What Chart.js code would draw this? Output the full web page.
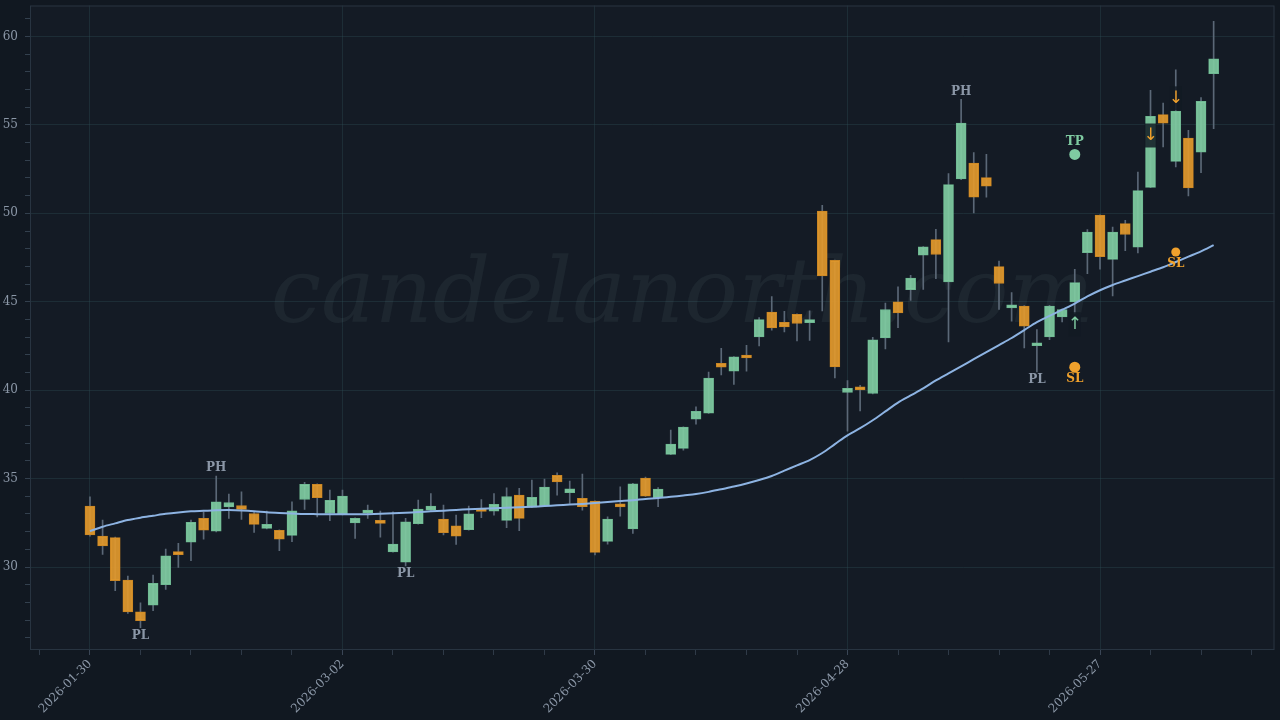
<!DOCTYPE html>
<html>
<head>
<meta charset="utf-8">
<script src="https://cdn.jsdelivr.net/npm/chart.js@4.4.1/dist/chart.umd.min.js"></script>
<style>
    html, body { margin: 0; padding: 0; background: #111821; }
    #wrap { width: 1280px; height: 720px; }
</style>
</head>
<body>
<div id="wrap"><canvas id="candles" width="1280" height="720"></canvas></div>
<script>
// daily OHLC, one entry per trading day (index 0 = 2026-01-30)
const opens = [33.45, 31.75, 31.66, 29.27, 27.47, 27.84, 29.00, 30.74, 31.40, 32.75,
    32.03, 33.40, 33.48, 33.03, 32.19, 32.07, 31.79, 33.82, 34.67, 33.03,
    32.98, 32.50, 33.05, 32.53, 30.86, 30.27, 32.45, 33.22, 32.71, 32.33,
    32.11, 33.20, 33.16, 32.64, 34.07, 33.39, 33.45, 35.18, 34.20, 33.88,
    33.73, 31.45, 33.45, 32.16, 35.03, 33.92, 36.37, 36.71, 38.36, 38.70,
    41.52, 41.07, 41.88, 43.01, 44.41, 43.84, 44.29, 43.82, 50.13, 47.34,
    39.87, 40.06, 39.81, 42.96, 44.99, 45.69, 47.63, 48.51, 46.12, 51.94,
    52.84, 52.02, 46.99, 44.65, 44.76, 42.51, 43.01, 44.14, 44.99, 47.78,
    49.90, 47.40, 49.42, 48.08, 51.47, 55.58, 52.94, 54.25, 53.46, 57.89];
const highs = [33.97, 32.65, 31.70, 29.49, 27.98, 29.55, 31.02, 31.34, 32.66, 33.12,
    35.14, 34.12, 34.25, 33.10, 33.16, 32.10, 33.69, 34.79, 34.70, 34.35,
    34.35, 32.78, 33.50, 33.16, 33.12, 32.75, 33.79, 34.16, 33.50, 32.94,
    33.45, 33.82, 34.16, 34.48, 34.45, 34.92, 34.97, 35.33, 34.86, 35.25,
    33.75, 32.84, 34.54, 34.73, 35.08, 34.50, 37.74, 37.93, 39.06, 41.03,
    42.37, 41.90, 42.54, 44.10, 45.29, 44.46, 44.31, 44.48, 50.45, 47.36,
    40.55, 40.28, 42.99, 44.93, 45.84, 46.50, 48.12, 49.10, 52.24, 56.44,
    53.43, 53.33, 47.30, 45.52, 44.78, 43.43, 44.80, 44.58, 46.84, 49.08,
    49.92, 49.22, 49.60, 52.33, 56.95, 56.23, 58.11, 54.69, 56.54, 60.85];
const lows = [31.75, 30.72, 28.66, 27.38, 26.57, 27.53, 28.74, 29.98, 30.36, 31.58,
    31.99, 32.75, 32.69, 31.96, 32.15, 30.92, 31.43, 33.26, 32.84, 32.62,
    32.95, 31.62, 32.75, 31.69, 30.84, 30.07, 32.42, 33.20, 31.81, 31.28,
    32.08, 32.79, 32.94, 32.22, 32.05, 33.36, 33.42, 34.07, 33.60, 33.22,
    30.68, 31.30, 32.88, 31.90, 34.00, 33.41, 36.35, 36.61, 38.08, 38.68,
    40.86, 40.32, 41.07, 42.50, 43.39, 43.29, 42.79, 42.82, 44.48, 40.70,
    37.68, 38.83, 39.79, 42.33, 43.54, 45.08, 45.70, 46.31, 42.73, 51.90,
    50.02, 50.92, 44.56, 43.90, 42.39, 41.03, 42.86, 43.86, 44.33, 46.59,
    46.84, 45.33, 47.89, 47.76, 51.45, 53.75, 52.62, 50.98, 52.30, 54.78];
const closes = [31.81, 31.20, 29.23, 27.47, 26.97, 29.08, 30.64, 30.70, 32.53, 32.09,
    33.69, 33.65, 33.26, 32.41, 32.41, 31.58, 33.18, 34.67, 33.92, 33.77,
    34.01, 32.75, 33.12, 32.47, 31.30, 32.56, 33.28, 33.45, 31.94, 31.75,
    33.01, 33.15, 33.54, 33.99, 32.75, 33.94, 34.52, 34.82, 34.42, 33.41,
    30.83, 32.71, 33.40, 34.71, 34.01, 34.41, 36.95, 37.91, 38.81, 40.68,
    41.30, 41.88, 41.82, 43.99, 43.52, 43.58, 43.77, 43.86, 46.46, 41.32,
    40.10, 40.02, 42.84, 44.56, 44.37, 46.34, 48.10, 47.67, 51.62, 55.10,
    50.92, 51.54, 46.03, 44.69, 43.62, 42.55, 44.76, 44.56, 46.08, 48.94,
    47.55, 48.94, 48.80, 51.28, 55.48, 55.10, 55.78, 51.43, 56.33, 58.74];

// moving average
const maValues = [32.03, 32.28, 32.47, 32.66, 32.79, 32.90, 33.01, 33.09, 33.15, 33.18,
    33.21, 33.22, 33.20, 33.16, 33.10, 33.06, 33.03, 33.00, 32.99, 32.98,
    32.98, 32.98, 32.99, 33.01, 33.04, 33.07, 33.11, 33.15, 33.19, 33.23,
    33.27, 33.30, 33.32, 33.35, 33.38, 33.41, 33.45, 33.49, 33.53, 33.57,
    33.62, 33.68, 33.73, 33.78, 33.85, 33.90, 33.97, 34.05, 34.13, 34.25,
    34.40, 34.55, 34.72, 34.92, 35.15, 35.45, 35.75, 36.05, 36.45, 36.95,
    37.45, 37.85, 38.30, 38.80, 39.30, 39.70, 40.10, 40.55, 40.95, 41.35,
    41.75, 42.15, 42.55, 42.95, 43.40, 43.85, 44.20, 44.55, 44.90, 45.30,
    45.65, 45.95, 46.20, 46.45, 46.70, 46.95, 47.25, 47.55, 47.85, 48.20];

// x tick labels (index -> date)
const dateTickIndex = [0, 20, 40, 60, 80];
const dateTickLabels = ['2026-01-30', '2026-03-02', '2026-03-30', '2026-04-28', '2026-05-27'];

// pivots
const pivotHighIdx = [10, 69];
const pivotLowIdx = [4, 25, 75];

// trade markers
const tpPoints = [{x: 78, y: 53.33}];
const slPoints = [{x: 78, y: 41.30}];
const slPoints2 = [{x: 86, y: 47.81}];
const longSignals = [{x: 78, y: 43.73}];
const shortSignals = [{x: 84, y: 54.40}, {x: 86, y: 56.50}];

const GREEN = '#7fcba1';
const ORANGE = '#f0a12c';
const TEXT = '#8b97a7';
const SERIF = '"DejaVu Serif", serif';
const GRID = 'rgba(45,80,85,0.35)';

const idx = opens.map((_, i) => i);
const isUp = idx.map(i => closes[i] >= opens[i]);

const chartBg = {
    id: 'chartBg',
    beforeDraw(chart) {
        const {ctx, chartArea: a} = chart;
        ctx.save();
        ctx.fillStyle = '#111821';
        ctx.fillRect(0, 0, chart.width, chart.height);
        ctx.fillStyle = '#141b25';
        ctx.fillRect(a.left, a.top, a.right - a.left, a.bottom - a.top);
        ctx.restore();
    },
    beforeDatasetsDraw(chart) {
        const {ctx, chartArea: a} = chart;
        ctx.save();
        ctx.font = 'italic 90px ' + SERIF;
        ctx.fillStyle = 'rgba(120,150,160,0.09)';
        ctx.textAlign = 'center';
        ctx.textBaseline = 'alphabetic';
        ctx.fillText('candelanorth.com', (a.left + a.right) / 2 + 30, (a.top + a.bottom) / 2 - 6);
        ctx.restore();
    },
    afterDatasetsDraw(chart) {
        const {ctx} = chart;
        const xs = chart.scales.x, ys = chart.scales.y;
        ctx.save();
        ctx.font = 'bold 12px ' + SERIF;
        ctx.textAlign = 'center';
        ctx.fillStyle = TEXT;
        ctx.textBaseline = 'bottom';
        pivotHighIdx.forEach(i => ctx.fillText('PH', xs.getPixelForValue(i), ys.getPixelForValue(highs[i]) - 2));
        ctx.textBaseline = 'top';
        pivotLowIdx.forEach(i => ctx.fillText('PL', xs.getPixelForValue(i), ys.getPixelForValue(lows[i]) + 2));

        ctx.fillStyle = GREEN;
        ctx.textBaseline = 'bottom';
        tpPoints.forEach(p => ctx.fillText('TP', xs.getPixelForValue(p.x), ys.getPixelForValue(p.y) - 7));
        ctx.fillStyle = ORANGE;
        ctx.textBaseline = 'top';
        slPoints.concat(slPoints2).forEach(p => ctx.fillText('SL', xs.getPixelForValue(p.x), ys.getPixelForValue(p.y) + 6));

        ctx.font = '17px "DejaVu Sans", sans-serif';
        ctx.textBaseline = 'middle';
        const arrow = (p, ch, col) => {
            const px = xs.getPixelForValue(p.x), py = ys.getPixelForValue(p.y);
            ctx.fillStyle = 'rgba(18,26,35,0.85)';
            ctx.fillRect(px - 6, py - 12, 12, 24);
            ctx.fillStyle = col;
            ctx.fillText(ch, px, py);
        };
        longSignals.forEach(p => arrow(p, '\u2191', GREEN));
        shortSignals.forEach(p => arrow(p, '\u2193', ORANGE));
        ctx.restore();
    },
    afterDraw(chart) {
        const {ctx, chartArea: a} = chart;
        ctx.save();
        ctx.strokeStyle = '#283441';
        ctx.lineWidth = 1;
        ctx.strokeRect(a.left + 0.5, a.top + 0.5, a.right - a.left - 1, a.bottom - a.top - 1);
        ctx.restore();
    }
};

new Chart(document.getElementById('candles'), {
    type: 'bar',
    data: {
        datasets: [
            {
                type: 'line',
                data: idx.map(i => ({x: i, y: maValues[i]})),
                borderColor: '#8db3e2',
                borderWidth: 2,
                pointRadius: 0,
                tension: 0.3,
                order: 0
            },
            {
                type: 'scatter',
                data: tpPoints,
                pointRadius: 5.5,
                backgroundColor: GREEN,
                borderWidth: 0,
                order: 0
            },
            {
                type: 'scatter',
                data: slPoints,
                pointRadius: 5.5,
                backgroundColor: ORANGE,
                borderWidth: 0,
                order: 0
            },
            {
                type: 'scatter',
                data: slPoints2,
                pointRadius: 4.5,
                backgroundColor: ORANGE,
                borderWidth: 0,
                order: 0
            },
            {
                data: idx.map(i => ({x: i, y: [opens[i], closes[i]]})),
                backgroundColor: idx.map(i => isUp[i] ? 'rgba(127,203,161,0.92)' : 'rgba(226,153,45,0.92)'),
                borderColor: idx.map(i => isUp[i] ? '#6fb892' : '#c98625'),
                borderWidth: 1,
                borderSkipped: false,
                barThickness: 10,
                minBarLength: 3,
                grouped: false,
                order: 1
            },
            {
                data: idx.map(i => ({x: i, y: [lows[i], highs[i]]})),
                backgroundColor: '#5b6877',
                borderWidth: 0,
                barThickness: 1,
                grouped: false,
                order: 2
            }
        ]
    },
    options: {
        responsive: false,
        animation: false,
        layout: {padding: {top: 5, right: 5, left: 0, bottom: 0}},
        plugins: {
            legend: {display: false},
            tooltip: {enabled: false}
        },
        scales: {
            x: {
                type: 'linear',
                min: -4.75,
                max: 93.82,
                offset: false,
                afterBuildTicks: s => {
                    const t = [];
                    for (let v = -4; v <= 92; v += 4) t.push({value: v});
                    s.ticks = t;
                },
                afterFit: s => {
                    s.height = 70;
                    s.paddingLeft = 0;
                    s.paddingRight = 0;
                },
                border: {display: false},
                grid: {
                    offset: false,
                    color: c => (c.tick && c.tick.value % 20 === 0) ? GRID : 'transparent',
                    tickColor: c => (c.tick && c.tick.value % 20 === 0) ? '#3a4656' : '#2f3a48',
                    tickLength: 5
                },
                ticks: {
                    autoSkip: false,
                    minRotation: 45,
                    maxRotation: 45,
                    padding: 2,
                    color: TEXT,
                    font: {family: SERIF, size: 12},
                    callback: v => {
                        const k = dateTickIndex.indexOf(v);
                        return k >= 0 ? dateTickLabels[k] : '';
                    }
                }
            },
            y: {
                type: 'linear',
                min: 25.31,
                max: 61.75,
                afterBuildTicks: s => {
                    const t = [];
                    for (let v = 26; v <= 61; v++) t.push({value: v});
                    s.ticks = t;
                },
                afterFit: s => {
                    s.width = 30;
                    s.paddingTop = 0;
                    s.paddingBottom = 0;
                },
                border: {display: false},
                grid: {
                    color: c => (c.tick && c.tick.value % 5 === 0) ? GRID : 'transparent',
                    tickColor: '#33404e',
                    tickLength: 5
                },
                ticks: {
                    padding: 7,
                    color: TEXT,
                    font: {family: SERIF, size: 12},
                    callback: v => v % 5 === 0 ? String(v) : ''
                }
            }
        }
    },
    plugins: [chartBg]
});
</script>
</body>
</html>
